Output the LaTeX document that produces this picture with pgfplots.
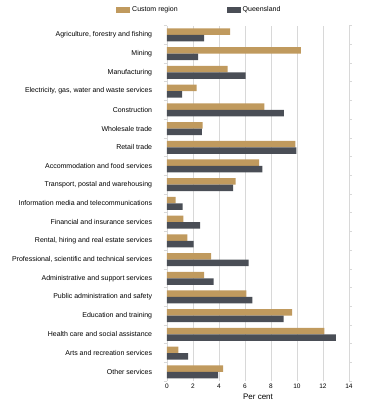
\documentclass[border=0pt]{standalone}
\usepackage{fontspec}
\setmainfont{Liberation Sans}
\usepackage{pgfplots}
\pgfplotsset{compat=1.18}
\usepackage{pgfplotstable}
\definecolor{custom}{HTML}{C09A5E}
\definecolor{qld}{HTML}{4A4E56}
\definecolor{gridc}{HTML}{D8D8D8}
\pgfplotstableread{
y custom qld
18 4.86 2.86
17 10.29 2.39
16 4.66 6.05
15 2.27 1.16
14 7.49 9.00
13 2.75 2.68
12 9.88 9.95
11 7.08 7.33
10 5.28 5.09
9 0.67 1.21
8 1.26 2.55
7 1.57 2.04
6 3.40 6.28
5 2.86 3.58
4 6.10 6.56
3 9.62 8.98
2 12.11 12.99
1 0.88 1.62
0 4.32 3.94
}\datatable
\begin{document}
\begin{tikzpicture}
\useasboundingbox (-167pt,-23.8pt) rectangle (224pt,381.2pt);
\begin{axis}[
  at={(0,0)}, anchor=south west,
  scale only axis,
  width=182pt, height=355.6pt,
  xbar, bar width=6.5pt,
  xmin=0, xmax=14,
  ymin=-0.5, ymax=18.5,
  xtick={0,2,...,14},
  ytick={0,...,18},
  yticklabels={Other services, Arts and recreation services, Health care and social assistance, Education and training, Public administration and safety, Administrative and support services, {Professional, scientific and technical services}, {Rental, hiring and real estate services}, Financial and insurance services, Information media and telecommunications, {Transport, postal and warehousing}, Accommodation and food services, Retail trade, Wholesale trade, Construction, {Electricity, gas, water and waste services}, Manufacturing, Mining, {Agriculture, forestry and fishing}},
  minor ytick={-0.5,0.5,...,18.5},
  major tick length=0pt,
  minor tick length=3pt,
  tick align=outside,
  minor tick style={gridc, line width=0.6pt},
  major tick style={draw=none},
  axis line style={draw=none},
  xmajorgrids,
  grid style={gridc, line width=0.8pt},
  /pgf/number format/assume math mode=true,
  yticklabel style={anchor=east, inner sep=0pt, xshift=-14.7pt, font=\fontsize{7}{8}\selectfont},
  xticklabel style={anchor=north, inner sep=0pt, yshift=-3pt, font=\fontsize{6.5}{7.5}\selectfont},
  xlabel={Per cent},
  xlabel style={at={(axis description cs:0.5,0)}, anchor=center, yshift=-15.8pt, font=\fontsize{8}{9}\selectfont},
  legend columns=2,
  legend image code/.code={\fill[#1] (0pt,-3pt) rectangle (14pt,3pt);},
  legend style={at={(axis description cs:-0.2802,1.0447)}, anchor=west, draw=none, fill=none, inner sep=0pt, font=\fontsize{7}{8}\selectfont, /tikz/every even column/.append style={column sep=47pt}},
  clip=false,
]
\addplot[fill=custom, draw=none, bar shift=3.25pt] table[x=custom, y=y] {\datatable};
\addlegendentry{Custom region}
\addplot[fill=qld, draw=none, bar shift=-3.25pt] table[x=qld, y=y] {\datatable};
\addlegendentry{Queensland}
\end{axis}
\end{tikzpicture}
\end{document}
